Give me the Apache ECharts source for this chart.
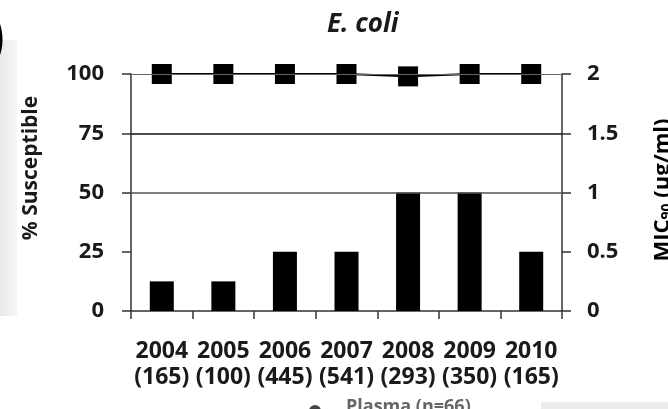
<!DOCTYPE html>
<html>
<head>
<meta charset="utf-8">
<script src="https://cdn.jsdelivr.net/npm/echarts@6/dist/echarts.min.js"></script>
<style>
  html, body { margin: 0; padding: 0; background: #fff; }
  #chart { width: 668px; height: 409px; }
</style>
</head>
<body>
<div id="chart"></div>
<script>
// Surveillance years with isolate counts
const years = ['2004', '2005', '2006', '2007', '2008', '2009', '2010'];
const isolateCounts = [165, 100, 445, 541, 293, 350, 165];
// % susceptible (left axis)
const susceptible = [100, 100, 100, 100, 99, 100, 100];
// MIC90 in µg/ml (right axis)
const mic90 = [0.25, 0.25, 0.5, 0.5, 1, 1, 0.5];

const categories = years.map((y, i) => y + '\n(' + isolateCounts[i] + ')');

const FONT = '"Open Sans", "Noto Sans", sans-serif';
const INK = '#1a1a1a';

const chart = echarts.init(document.getElementById('chart'), null, { renderer: 'canvas' });

chart.setOption({
  animation: false,
  backgroundColor: '#ffffff',
  grid: { left: 131, right: 106, top: 74, bottom: 98, containLabel: false },
  title: {
    text: 'E. coli',
    left: 322,
    top: 7,
    textStyle: { fontFamily: FONT, fontSize: 26, fontWeight: 'bold', fontStyle: 'italic', color: INK }
  },
  xAxis: {
    type: 'category',
    data: categories,
    boundaryGap: true,
    axisLine: { lineStyle: { color: '#333', width: 1.5 } },
    axisTick: { show: true, length: 8, lineStyle: { color: '#333', width: 1.5 } },
    axisLabel: {
      margin: 27,
      interval: 0,
      fontFamily: FONT, fontSize: 23, fontWeight: 'bold', color: INK,
      lineHeight: 26
    },
    splitLine: { show: false }
  },
  yAxis: [
    {
      type: 'value',
      position: 'left',
      min: 0, max: 100, interval: 25,
      axisLine: { show: true, lineStyle: { color: '#333', width: 1.5 } },
      axisTick: { show: true, length: 9, lineStyle: { color: '#333', width: 1.5 } },
      axisLabel: { margin: 27, fontFamily: FONT, fontSize: 22, fontWeight: 'bold', color: INK },
      splitLine: { show: false }
    },
    {
      type: 'value',
      position: 'right',
      min: 0, max: 2, interval: 0.5,
      axisLine: { show: true, lineStyle: { color: '#333', width: 1.5 } },
      axisTick: { show: true, length: 9, lineStyle: { color: '#333', width: 1.5 } },
      axisLabel: { margin: 25, fontFamily: FONT, fontSize: 22, fontWeight: 'bold', color: INK },
      splitLine: { show: false }
    }
  ],
  series: [
    {
      name: 'MIC90',
      type: 'bar',
      yAxisIndex: 1,
      data: mic90,
      barWidth: 24,
      itemStyle: { color: '#000' },
      z: 2,
      markLine: {
        silent: true,
        symbol: ['none', 'none'],
        label: { show: false },
        data: [
          { yAxis: 2, lineStyle: { color: '#666', width: 1.2, type: 'solid' } },
          { yAxis: 1.5, lineStyle: { color: '#111', width: 1.6, type: 'solid' } },
          { yAxis: 1, lineStyle: { color: '#555', width: 1.6, type: 'solid' } }
        ]
      }
    },
    {
      name: '% Susceptible',
      type: 'line',
      yAxisIndex: 0,
      data: susceptible,
      symbol: 'rect',
      symbolSize: 20,
      itemStyle: { color: '#000' },
      lineStyle: { color: '#000', width: 2 },
      z: 4
    }
  ],
  graphic: [
    // shaded margin strip on the left
    {
      type: 'rect', left: 0, top: 40, z: -1,
      shape: { width: 17, height: 276 },
      style: {
        fill: new echarts.graphic.LinearGradient(0, 0, 1, 0, [
          { offset: 0, color: '#e9e9e9' }, { offset: 1, color: '#f5f5f5' }
        ])
      }
    },
    // shaded strip at the bottom right
    {
      type: 'rect', left: 541, top: 402, z: -1,
      shape: { width: 127, height: 7 },
      style: { fill: '#ececec' }
    },
    // panel letter bracket at the top left
    {
      type: 'text', x: -16, y: 8,
      style: { text: ')', font: 'bold 62px ' + FONT, fill: '#000' }
    },
    // left axis title
    {
      type: 'text', x: 31, y: 168, rotation: Math.PI / 2,
      style: {
        text: '% Susceptible',
        font: 'bold 21px ' + FONT, fill: INK,
        align: 'center', verticalAlign: 'middle'
      }
    },
    // right axis title with subscript
    {
      type: 'text', x: 663, y: 190, rotation: Math.PI / 2,
      style: {
        text: '{a|MIC}{s|90}{a| (µg/ml)}',
        align: 'center', verticalAlign: 'middle',
        rich: {
          a: { fontFamily: FONT, fontSize: 22, fontWeight: 'bold', color: INK },
          s: { fontFamily: FONT, fontSize: 14, fontWeight: 'bold', color: INK, verticalAlign: 'bottom', padding: [9, 0, 0, 0] }
        }
      }
    },
    // legend entry running off the bottom edge
    {
      type: 'line', z: 1,
      shape: { x1: 298, y1: 411, x2: 332, y2: 411 },
      style: { stroke: '#666', lineWidth: 2 }
    },
    {
      type: 'circle', z: 1,
      shape: { cx: 315, cy: 411, r: 6 },
      style: { fill: '#444' }
    },
    {
      type: 'text', x: 346, y: 398,
      style: { text: 'Plasma (n=66)', font: 'bold 18px ' + FONT, fill: '#666' }
    }
  ]
});
</script>
</body>
</html>
